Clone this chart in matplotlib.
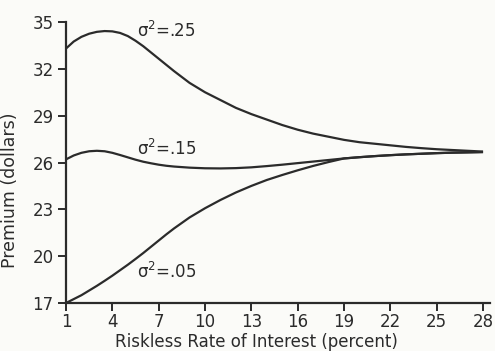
import matplotlib
matplotlib.use("Agg")
import matplotlib.pyplot as plt

plt.rcParams["font.family"] = ["DejaVu Sans"]
plt.rcParams["mathtext.fontset"] = "dejavusans"

# Riskless rate of interest (percent)
rate = [1, 1.5, 2, 2.5, 3, 3.5, 4, 4.5, 5, 5.5, 6, 6.5, 7, 7.5, 8,
        9, 10, 11, 12, 13, 14, 15, 16, 17, 18, 19, 20, 21, 22, 23,
        24, 25, 26, 27, 28]

# Premium (dollars) for each variance
prem_25 = [33.3, 33.75, 34.05, 34.25, 34.37, 34.42, 34.4, 34.3, 34.1, 33.8,
           33.45, 33.05, 32.65, 32.25, 31.85, 31.1, 30.5, 30.0, 29.5, 29.1,
           28.75, 28.4, 28.1, 27.85, 27.65, 27.45, 27.3, 27.2, 27.1, 27.0,
           26.92, 26.85, 26.8, 26.75, 26.7]
prem_15 = [26.2, 26.45, 26.62, 26.72, 26.75, 26.72, 26.62, 26.48, 26.33, 26.18,
           26.05, 25.95, 25.86, 25.79, 25.74, 25.67, 25.63, 25.62, 25.64, 25.69,
           25.77, 25.86, 25.96, 26.06, 26.16, 26.26, 26.34, 26.41, 26.47, 26.52,
           26.56, 26.6, 26.63, 26.65, 26.67]
prem_05 = [17.0, 17.25, 17.5, 17.8, 18.1, 18.42, 18.75, 19.1, 19.45, 19.82,
           20.2, 20.6, 21.0, 21.4, 21.78, 22.48, 23.07, 23.6, 24.08, 24.5,
           24.88, 25.2, 25.5, 25.78, 26.03, 26.26, 26.34, 26.41, 26.47, 26.52,
           26.56, 26.6, 26.63, 26.65, 26.67]

labels = ["σ$^2$=.25", "σ$^2$=.15", "σ$^2$=.05"]
label_pos = [(5.6, 34.05), (5.6, 26.5), (5.6, 18.6)]

xticks = [1, 4, 7, 10, 13, 16, 19, 22, 25, 28]
yticks = [17, 20, 23, 26, 29, 32, 35]

ink = "#2b2b2b"

fig = plt.figure(figsize=(4.95, 3.51), dpi=100, facecolor="#fbfbf8")
ax = fig.add_axes([66 / 495, 1 - 303 / 351, (490 - 66) / 495, (303 - 22) / 351])
ax.set_facecolor("#fbfbf8")

for ys in (prem_25, prem_15, prem_05):
    ax.plot(rate, ys, color=ink, lw=1.6, solid_capstyle="butt")

for txt, (tx, ty) in zip(labels, label_pos):
    ax.text(tx, ty, txt, fontsize=12, color=ink)

ax.set_xlim(1, 28.45)
ax.set_ylim(17, 35)
ax.set_xticks(xticks)
ax.set_yticks(yticks)
for s in ("top", "right"):
    ax.spines[s].set_visible(False)
for s in ("left", "bottom"):
    ax.spines[s].set_linewidth(1.6)
    ax.spines[s].set_color(ink)
ax.tick_params(direction="out", length=6, width=1.4, colors=ink, labelsize=12)
ax.tick_params(axis="x", pad=1)
ax.tick_params(axis="y", pad=3)

ax.set_xlabel("Riskless Rate of Interest (percent)", fontsize=12, color=ink)
ax.xaxis.set_label_coords(0.448, -0.105)
ax.set_ylabel("Premium (dollars)", fontsize=12.5, color=ink)
ax.yaxis.set_label_coords(-0.11, 0.40)

fig.savefig("out.png", dpi=100, facecolor=fig.get_facecolor())
